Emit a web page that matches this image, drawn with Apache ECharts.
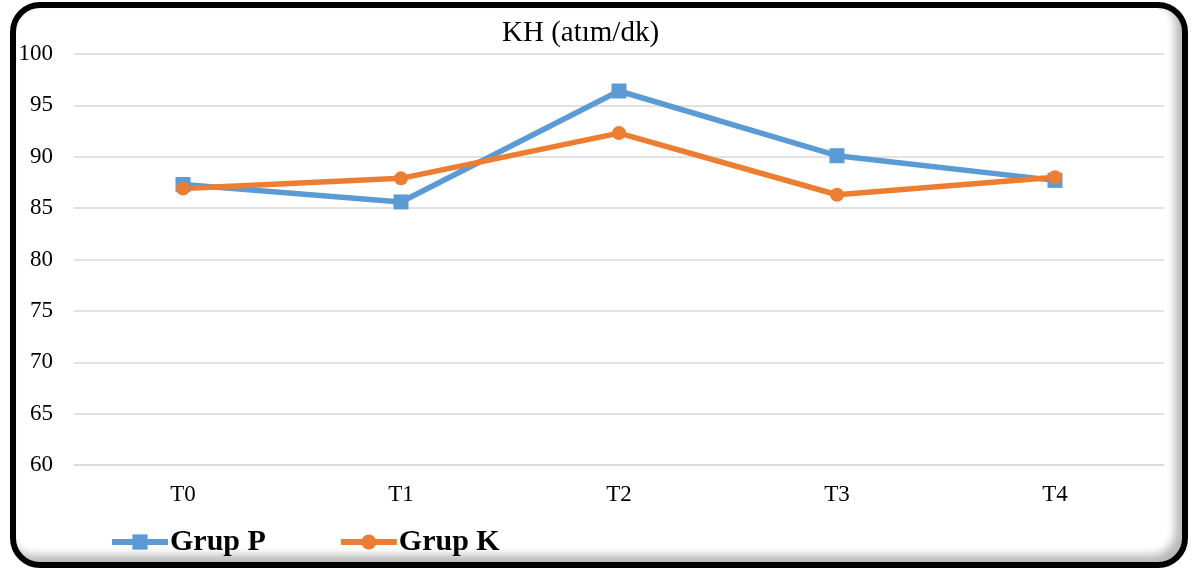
<!DOCTYPE html>
<html>
<head>
<meta charset="utf-8">
<script src="https://cdn.jsdelivr.net/npm/echarts@6/dist/echarts.min.js"></script>
<style>
  html, body { margin: 0; padding: 0; background: #fff; }
  #chart { position: absolute; left: 0; top: 0; width: 1198px; height: 571px; }
  #frame {
    position: absolute; left: 10px; top: 2px; width: 1166px; height: 554px;
    border: 6px solid #000; border-radius: 30px;
    box-shadow: inset -7px -7px 8px rgba(0,0,0,0.28);
    pointer-events: none;
  }
</style>
</head>
<body>
<div id="chart"></div>
<div id="frame"></div>
<script>
const titleText = 'KH (atım/dk)';
const categories = ['T0', 'T1', 'T2', 'T3', 'T4'];
const grupP = [87.3, 85.6, 96.4, 90.1, 87.7];
const grupK = [86.9, 87.9, 92.3, 86.3, 88.0];
const seriesNames = ['Grup P', 'Grup K'];

const chart = echarts.init(document.getElementById('chart'), null, { renderer: 'canvas' });
const serif = 'Liberation Serif, Times New Roman, serif';
chart.setOption({
  animation: false,
  backgroundColor: '#fff',
  title: {
    text: titleText, left: 497, top: 14,
    textStyle: { fontFamily: serif, fontSize: 29, fontWeight: 'normal', color: '#000' }
  },
  legend: {
    left: 104, top: 522, itemWidth: 56, itemHeight: 19, itemGap: 72,
    lineStyle: { width: 6 },
    textStyle: { fontFamily: serif, fontSize: 30, fontWeight: 'bold', color: '#000', padding: [0, 0, 0, -3] },
    data: seriesNames
  },
  grid: { left: 74, right: 34, top: 54, bottom: 106 },
  xAxis: {
    type: 'category', data: categories, boundaryGap: true,
    axisLine: { show: true, lineStyle: { color: '#D9D9D9', width: 1.5 } },
    axisTick: { show: false },
    axisLabel: { fontFamily: serif, fontSize: 23, color: '#000', margin: 18 }
  },
  yAxis: {
    type: 'value', min: 60, max: 100, interval: 5,
    axisLine: { show: false }, axisTick: { show: false },
    axisLabel: { fontFamily: serif, fontSize: 23, color: '#000', margin: 21 },
    splitLine: { lineStyle: { color: '#D9D9D9', width: 1.5 } }
  },
  series: [
    {
      name: seriesNames[0], type: 'line', data: grupP,
      symbol: 'rect', symbolSize: 15,
      lineStyle: { color: '#5B9BD5', width: 5.5 },
      itemStyle: { color: '#5B9BD5' }
    },
    {
      name: seriesNames[1], type: 'line', data: grupK,
      symbol: 'circle', symbolSize: 14,
      lineStyle: { color: '#ED7D31', width: 5.5 },
      itemStyle: { color: '#ED7D31' }
    }
  ]
});
</script>
</body>
</html>
